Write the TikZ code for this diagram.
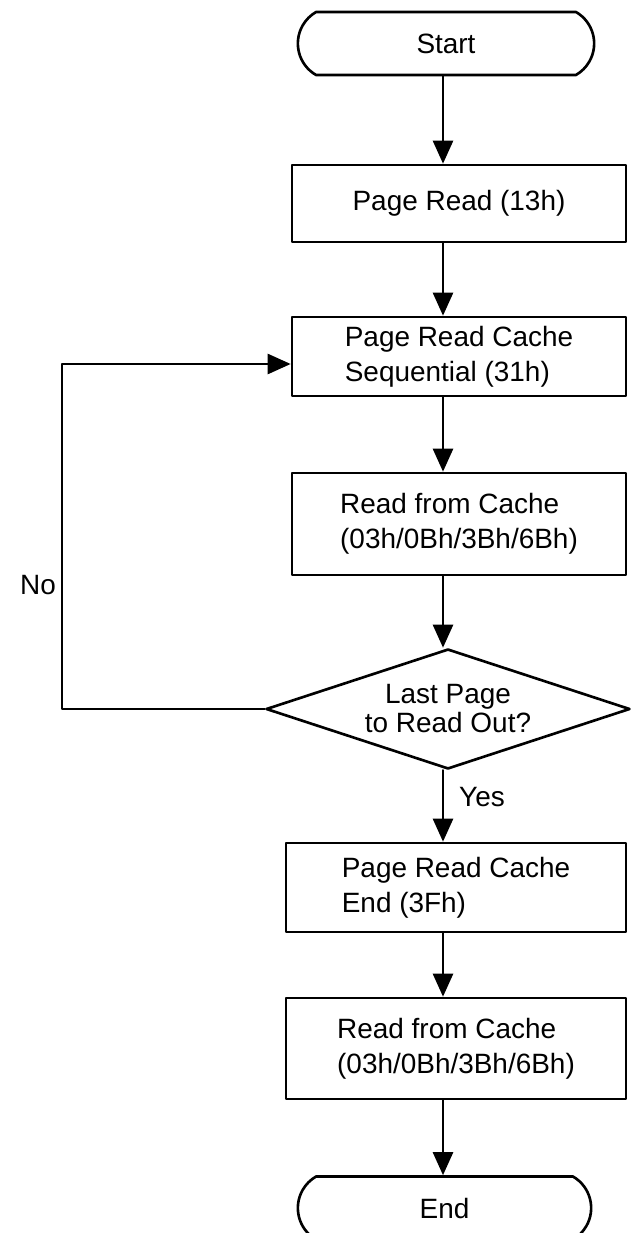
\documentclass[tikz,border=0pt]{standalone}
\usepackage{fontspec}
\setmainfont{Liberation Sans}
\usetikzlibrary{shapes.geometric,shapes.misc,arrows.meta}
\begin{document}
\begin{tikzpicture}[line cap=round, line join=round,
    every node/.style={font=\fontsize{15.9}{19.9}\selectfont},
    boxst/.style={draw, line width=1.5pt, minimum width=6.68cm, align=left},
    termst/.style={draw, line width=1.5pt, rounded rectangle, rounded rectangle arc length=120, minimum width=6.16cm, minimum height=1.26cm},
    decst/.style={draw, line width=1.5pt, diamond, aspect=3, minimum width=7.28cm, minimum height=2.4cm, inner sep=0pt, align=center, font=\fontsize{15.9}{16.5}\selectfont},
    arr/.style={line width=1.5pt, -{Triangle[length=0.46cm,width=0.4cm]}}]
    \useasboundingbox(0,0)rectangle(12.6,-24.66);
    \coordinate(spine)at(8.86,0);
    \coordinate(lp)at(1.24,0);
    \node[termst](start)at(8.92,-0.87){Start};
    \node[boxst, minimum height=1.54cm](pgrd)at(9.18,-4.07){Page Read (13h)};
    \node[boxst, minimum height=1.58cm](seq)at(9.18,-7.13){Page Read Cache\\Sequential (31h)};
    \node[boxst, minimum height=2.04cm](rdc)at(9.18,-10.48){Read from Cache\\(03h/0Bh/3Bh/6Bh)};
    \node[decst](dec)at(8.96,-14.18){Last Page\\to Read Out?};
    \node[boxst, minimum width=6.8cm, minimum height=1.78cm](pgend)at(9.12,-17.75){Page Read Cache\\End (3Fh)};
    \node[boxst, minimum width=6.8cm, minimum height=2.02cm](rdc2)at(9.12,-20.97){Read from Cache\\(03h/0Bh/3Bh/6Bh)};
    \node[termst, minimum width=6.1cm](stop)at(8.89,-24.16){End};
    \foreach \a/\b in{start/pgrd,pgrd/seq,seq/rdc,rdc/dec,dec/pgend,pgend/rdc2,rdc2/stop}
    \draw[arr](\a.south-|spine)--(\b.north-|spine);
    \draw[arr](dec.west)--(dec.west-|lp)|-([yshift=-0.15cm]seq.west);
    \node[anchor=west](yes)at(9.06,-15.94){Yes};
    \node(no)at(0.76,-11.7){No};
\end{tikzpicture}
\end{document}
